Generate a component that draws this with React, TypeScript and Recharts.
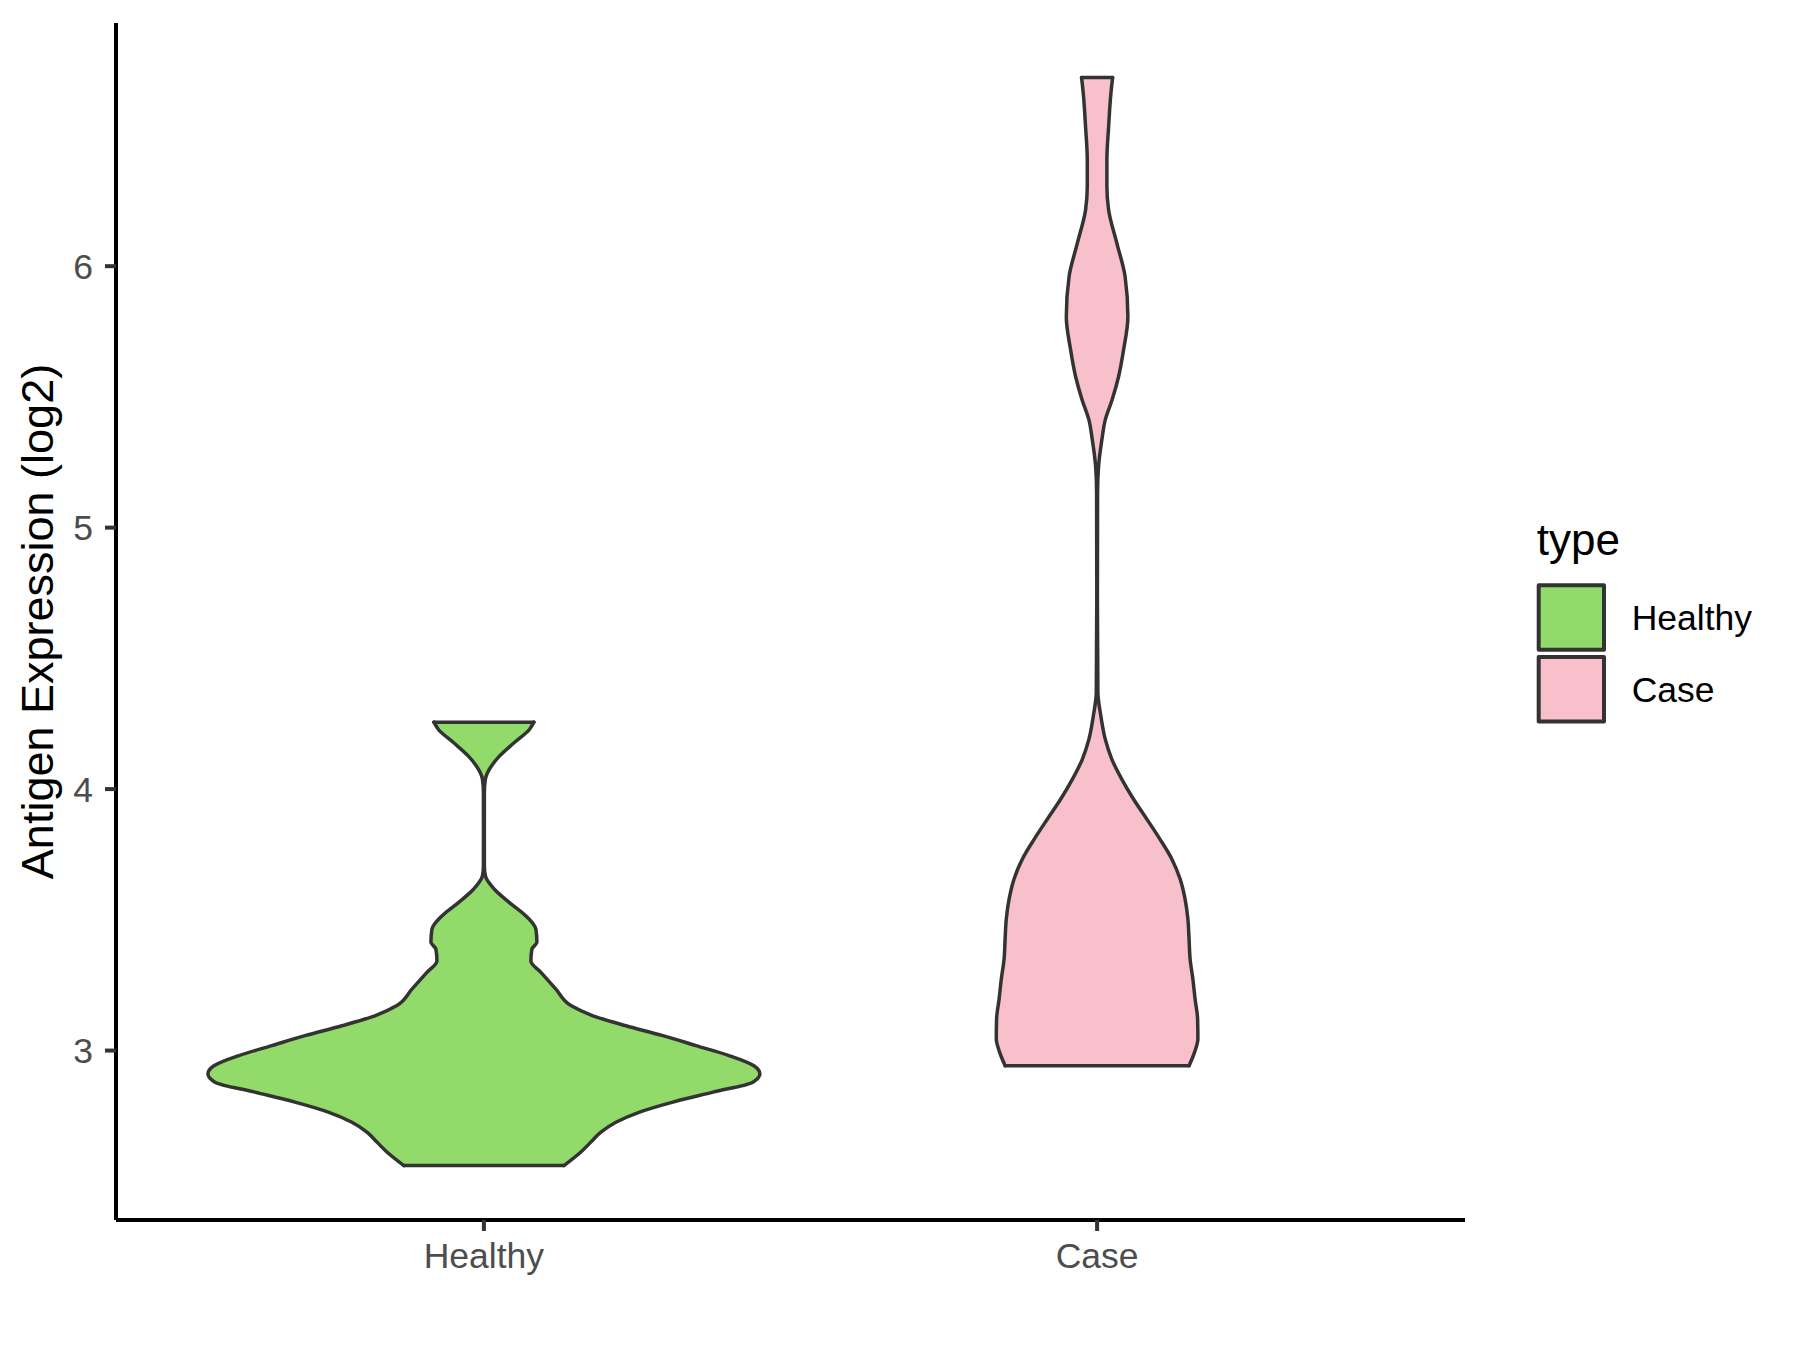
import { ComposedChart, Area, XAxis, YAxis, ReferenceLine } from 'recharts'

const categories = ['Healthy', 'Case']
const yTicks = [3, 4, 5, 6]

// violin outlines: level (log2) and half width (category units)
const healthyLevels = [
  2.560, 2.612, 2.650, 2.688, 2.726, 2.764, 2.803, 2.841, 2.879, 2.911, 2.942, 2.981,
  3.019, 3.057, 3.095, 3.133, 3.172, 3.235, 3.299, 3.343, 3.388, 3.414, 3.464, 3.515,
  3.566, 3.617, 3.668, 3.705, 3.847, 3.988, 4.038, 4.076, 4.126, 4.178, 4.228, 4.256,
]
const healthyHalfWidths = [
  0.1305, 0.1582, 0.1745, 0.1908, 0.2153, 0.2528, 0.3082, 0.3735, 0.4387, 0.4501, 0.4403, 0.3995,
  0.3457, 0.2919, 0.2316, 0.1778, 0.1419, 0.1174, 0.0930, 0.0766, 0.0783, 0.0864, 0.0848, 0.0685,
  0.0416, 0.0171, 0.0024, 0.0008, 0.0007, 0.0008, 0.0024, 0.0090, 0.0253, 0.0497, 0.0742, 0.0815,
]
const caseLevels = [
  2.942, 2.994, 3.045, 3.121, 3.197, 3.274, 3.350, 3.426, 3.503, 3.579, 3.656, 3.732,
  3.808, 3.885, 3.961, 4.037, 4.114, 4.190, 4.279, 4.370, 4.725, 5.134, 5.234, 5.336,
  5.413, 5.489, 5.578, 5.680, 5.807, 5.960, 6.087, 6.215, 6.304, 6.406, 6.533, 6.660, 6.7215,
]
const caseHalfWidths = [
  0.1500, 0.1590, 0.1644, 0.1639, 0.1598, 0.1562, 0.1517, 0.1500, 0.1481, 0.1435, 0.1354, 0.1220,
  0.1027, 0.0812, 0.0595, 0.0404, 0.0241, 0.0134, 0.0062, 0.0013, 0.0005, 0.0008, 0.0024, 0.0078,
  0.0134, 0.0245, 0.0351, 0.0432, 0.0502, 0.0457, 0.0323, 0.0188, 0.0160, 0.0160, 0.0188, 0.0225, 0.0253,
]

const FONT = "'Liberation Sans', Arial, Helvetica, sans-serif"
const OUTLINE = '#333333'
const TICK = { fill: '#4D4D4D', fontSize: 35.5, fontFamily: FONT }

const violins = [
  { name: 'Healthy', levels: healthyLevels, widths: healthyHalfWidths, fill: '#92DA6A' },
  { name: 'Case', levels: caseLevels, widths: caseHalfWidths, fill: '#F7C0CB' },
].map((v) => {
  const pos = categories.indexOf(v.name) + 1
  const data = v.levels.map((y, i) => ({ y, span: [pos - v.widths[i], pos + v.widths[i]] }))
  return { ...v, pos, data }
})

export default function App() {
  return (
    <div style={{ position: 'absolute', left: 0, top: 0, width: 1800, height: 1350, background: '#fff' }}>
      <ComposedChart
        width={1800}
        height={1350}
        layout="vertical"
        margin={{ top: 23, right: 335, bottom: 70, left: 0 }}
      >
        <XAxis
          type="number"
          domain={[0.4, 2.6]}
          ticks={[1, 2]}
          interval={0}
          allowDataOverflow
          tickFormatter={(v: number) => categories[v - 1]}
          height={60}
          axisLine={{ stroke: '#000', strokeWidth: 4 }}
          tickLine={{ stroke: OUTLINE, strokeWidth: 4 }}
          tickSize={11}
          tickMargin={12}
          tick={TICK}
        />
        <YAxis
          type="number"
          dataKey="y"
          domain={[2.352, 6.93]}
          ticks={yTicks}
          interval={0}
          allowDataOverflow
          reversed
          width={116}
          axisLine={{ stroke: '#000', strokeWidth: 4 }}
          tickLine={{ stroke: OUTLINE, strokeWidth: 4 }}
          tickSize={11}
          tickMargin={12}
          tick={TICK}
          label={{
            value: 'Antigen Expression (log2)',
            angle: -90,
            position: 'insideLeft',
            offset: 37.5,
            style: { textAnchor: 'middle', fill: '#000', fontSize: 45, fontFamily: FONT },
          }}
        />
        {violins.map((v) => (
          <Area
            key={v.name}
            name={v.name}
            data={v.data}
            dataKey="span"
            type="monotone"
            fill={v.fill}
            fillOpacity={1}
            stroke={OUTLINE}
            strokeWidth={3.5}
            strokeLinejoin="round"
            strokeLinecap="round"
            dot={false}
            activeDot={false}
            isAnimationActive={false}
          />
        ))}
        {violins.map((v) =>
          [0, v.data.length - 1].map((i) => (
            <ReferenceLine
              key={`${v.name}-${i}`}
              segment={[
                { x: v.data[i].span[0], y: v.data[i].y },
                { x: v.data[i].span[1], y: v.data[i].y },
              ]}
              stroke={OUTLINE}
              strokeWidth={3.5}
              strokeLinecap="round"
              ifOverflow="visible"
            />
          )),
        )}
      </ComposedChart>

      <svg width={1800} height={1350} style={{ position: 'absolute', left: 0, top: 0, pointerEvents: 'none' }}>
        <text x={1536.7} y={555} fontSize={44} fontFamily={FONT} fill="#000">type</text>
        {violins.map((v, i) => (
          <g key={v.name}>
            <rect
              x={1538.7}
              y={585.3 + i * 71.7}
              width={65.3}
              height={64.5}
              fill={v.fill}
              stroke={OUTLINE}
              strokeWidth={4}
              strokeLinejoin="round"
            />
            <text x={1631.7} y={630 + i * 71.7} fontSize={35.5} fontFamily={FONT} fill="#000">{v.name}</text>
          </g>
        ))}
      </svg>
    </div>
  )
}
